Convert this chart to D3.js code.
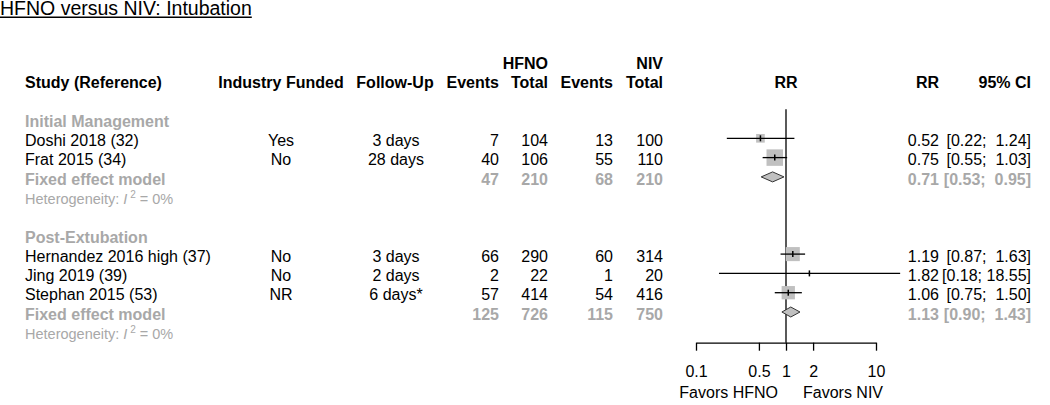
<!DOCTYPE html>
<html>
<head>
  <meta charset="utf-8">
  <script src="https://d3js.org/d3.v7.min.js"></script>
  <style>
    body { margin: 0; background: #fff; }
    text { font-family: "Liberation Sans", Arial, sans-serif; white-space: pre; }
  </style>
</head>
<body>
<script>
  // study level data
  var studies = ["Doshi 2018 (32)", "Frat 2015 (34)", "Hernandez 2016 high (37)", "Jing 2019 (39)", "Stephan 2015 (53)"];
  var studyGroup = [0, 0, 1, 1, 1];
  var funded = ["Yes", "No", "No", "No", "NR"];
  var followUp = ["3 days", "28 days", "3 days", "2 days", "6 days*"];
  var eventsHFNO = [7, 40, 66, 2, 57];
  var totalHFNO = [104, 106, 290, 22, 414];
  var eventsNIV = [13, 55, 60, 1, 54];
  var totalNIV = [100, 110, 314, 20, 416];
  var rr = [0.52, 0.75, 1.19, 1.82, 1.06];
  var rrLower = [0.22, 0.55, 0.87, 0.18, 0.75];
  var rrUpper = [1.24, 1.03, 1.63, 18.55, 1.50];
  var weights = [22, 80, 58, 1, 52];

  // subgroup (fixed effect) data
  var groups = ["Initial Management", "Post-Extubation"];
  var pooledEventsHFNO = [47, 125];
  var pooledTotalHFNO = [210, 726];
  var pooledEventsNIV = [68, 115];
  var pooledTotalNIV = [210, 750];
  var pooledRR = [0.71, 1.13];
  var pooledLower = [0.53, 0.90];
  var pooledUpper = [0.95, 1.43];
  var hetI2 = ["0%", "0%"];

  var axisTicks = [0.1, 0.5, 1, 2, 10];

  var width = 1050, height = 405;
  var black = "#000", grey = "#a8a8a8", boxGrey = "#c0c0c0";

  var svg = d3.select("body").append("svg")
      .attr("width", width)
      .attr("height", height);

  // title
  var title = svg.append("text")
      .attr("x", 0).attr("y", 15.2)
      .style("font-size", "19.5px")
      .text("HFNO versus NIV: Intubation");
  svg.append("line")
      .attr("x1", 0).attr("x2", title.node().getComputedTextLength())
      .attr("y1", 17.3).attr("y2", 17.3)
      .attr("stroke", black).attr("stroke-width", 1.4);

  var x = d3.scaleLog().domain([0.1, 10]).range([696, 876]);
  var row = function(i) { return 61.1 + 19.3 * i; };
  var base = function(i) { return row(i) + 7.7; };

  // build row layout
  var rows = [];
  var r = 3;
  groups.forEach(function(g, gi) {
    rows.push({type: "group", gi: gi, r: r++});
    studies.forEach(function(s, si) {
      if (studyGroup[si] === gi) rows.push({type: "study", si: si, r: r++});
    });
    rows.push({type: "pooled", gi: gi, r: r++});
    rows.push({type: "het", gi: gi, r: r++});
    r++;
  });

  function txt(xp, i, s, anchor, opts) {
    opts = opts || {};
    return svg.append("text")
      .attr("x", xp).attr("y", base(i))
      .attr("text-anchor", anchor)
      .style("font-size", (opts.size || 16) + "px")
      .style("font-weight", opts.bold ? "bold" : "normal")
      .attr("fill", opts.color || black)
      .text(s);
  }

  // headers
  txt(548, 0, "HFNO", "end", {bold: true});
  txt(663, 0, "NIV", "end", {bold: true});
  txt(25, 1, "Study (Reference)", "start", {bold: true});
  txt(281, 1, "Industry Funded", "middle", {bold: true});
  txt(395, 1, "Follow-Up", "middle", {bold: true});
  txt(499, 1, "Events", "end", {bold: true});
  txt(548, 1, "Total", "end", {bold: true});
  txt(613, 1, "Events", "end", {bold: true});
  txt(663, 1, "Total", "end", {bold: true});
  txt(x(1), 1, "RR", "middle", {bold: true});
  txt(939, 1, "RR", "end", {bold: true});
  txt(1031, 1, "95% CI", "end", {bold: true});

  var f2 = d3.format(".2f");
  function ci(lo, hi) {
    var h = f2(hi);
    while (h.length < 5) h = " " + h;
    return "[" + f2(lo) + "; " + h + "]";
  }

  // reference line at RR = 1
  svg.append("line")
    .attr("x1", x(1)).attr("x2", x(1))
    .attr("y1", row(2.5)).attr("y2", 342.7)
    .attr("stroke", black).attr("stroke-width", 1.3);

  var boxSize = d3.scaleSqrt().domain([0, d3.max(weights)]).range([0, 16.5]);

  rows.forEach(function(d) {
    var i = d.r;
    if (d.type === "group") {
      txt(25, i, groups[d.gi], "start", {bold: true, color: grey});
    } else if (d.type === "study") {
      var s = d.si;
      txt(25, i, studies[s], "start");
      txt(281, i, funded[s], "middle");
      txt(396, i, followUp[s], "middle");
      txt(499, i, eventsHFNO[s], "end");
      txt(548, i, totalHFNO[s], "end");
      txt(613, i, eventsNIV[s], "end");
      txt(663, i, totalNIV[s], "end");
      txt(939, i, f2(rr[s]), "end");
      txt(1031, i, ci(rrLower[s], rrUpper[s]), "end");
      var b = boxSize(weights[s]);
      svg.append("rect")
        .attr("x", x(rr[s]) - b / 2).attr("y", row(i) - b / 2)
        .attr("width", b).attr("height", b)
        .attr("fill", boxGrey);
      svg.append("line")
        .attr("x1", x(rrLower[s])).attr("x2", x(rrUpper[s]))
        .attr("y1", row(i)).attr("y2", row(i))
        .attr("stroke", black).attr("stroke-width", 1.3);
      svg.append("line")
        .attr("x1", x(rr[s])).attr("x2", x(rr[s]))
        .attr("y1", row(i) - 3).attr("y2", row(i) + 3)
        .attr("stroke", black).attr("stroke-width", 1.5);
    } else if (d.type === "pooled") {
      var g = d.gi;
      var o = {bold: true, color: grey};
      txt(25, i, "Fixed effect model", "start", o);
      txt(499, i, pooledEventsHFNO[g], "end", o);
      txt(548, i, pooledTotalHFNO[g], "end", o);
      txt(613, i, pooledEventsNIV[g], "end", o);
      txt(663, i, pooledTotalNIV[g], "end", o);
      txt(939, i, f2(pooledRR[g]), "end", o);
      txt(1031, i, ci(pooledLower[g], pooledUpper[g]), "end", o);
      var yc = row(i);
      svg.append("path")
        .attr("d", "M" + x(pooledLower[g]) + "," + yc +
                   "L" + x(pooledRR[g]) + "," + (yc - 5) +
                   "L" + x(pooledUpper[g]) + "," + yc +
                   "L" + x(pooledRR[g]) + "," + (yc + 5) + "Z")
        .attr("fill", boxGrey)
        .attr("stroke", "#333").attr("stroke-width", 1);
    } else {
      var t = txt(25, i, "Heterogeneity: ", "start", {size: 14.5, color: grey});
      t.append("tspan").style("font-style", "italic").text("I");
      t.append("tspan").attr("dy", -6).style("font-size", "10px").text(" 2");
      t.append("tspan").attr("dy", 6).text(" = " + hetI2[d.gi]);
    }
  });

  // x axis
  var axis = svg.append("g")
    .attr("transform", "translate(0,342.7)")
    .call(d3.axisBottom(x)
      .tickValues(axisTicks)
      .tickFormat(function(v) { return String(v); })
      .tickSize(8).tickSizeOuter(0).tickPadding(15));
  axis.selectAll("path, line").attr("stroke", black).attr("stroke-width", 1.3);
  axis.selectAll("text")
    .style("font-family", "'Liberation Sans', Arial, sans-serif")
    .style("font-size", "16px").attr("fill", black);

  svg.append("text")
    .attr("x", 778).attr("y", 397.5).attr("text-anchor", "end")
    .style("font-size", "16px").text("Favors HFNO");
  svg.append("text")
    .attr("x", 803).attr("y", 397.5).attr("text-anchor", "start")
    .style("font-size", "16px").text("Favors NIV");
</script>
</body>
</html>
